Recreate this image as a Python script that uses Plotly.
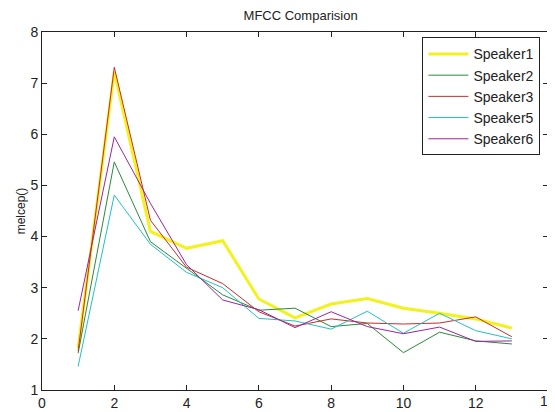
import plotly.graph_objects as go

x_vals = list(range(1, 14))
speaker1 = [1.82, 7.22, 4.10, 3.77, 3.92, 2.78, 2.41, 2.68, 2.79, 2.60, 2.50, 2.39, 2.21]
speaker2 = [1.72, 5.46, 3.90, 3.38, 2.86, 2.56, 2.60, 2.24, 2.30, 1.73, 2.13, 1.96, 1.90]
speaker3 = [1.76, 7.31, 4.32, 3.40, 3.08, 2.53, 2.25, 2.39, 2.31, 2.29, 2.31, 2.43, 2.04]
speaker5 = [1.46, 4.81, 3.85, 3.30, 3.00, 2.40, 2.35, 2.19, 2.54, 2.11, 2.50, 2.16, 2.00]
speaker6 = [2.55, 5.95, 4.65, 3.45, 2.76, 2.57, 2.22, 2.53, 2.24, 2.10, 2.23, 1.95, 1.96]
x_ticks = [0, 2, 4, 6, 8, 10, 12, 14]
y_ticks = [1, 2, 3, 4, 5, 6, 7, 8]

series = [
    ("Speaker1", speaker1, "#f2f21c", 3),
    ("Speaker2", speaker2, "#2a8a3a", 1),
    ("Speaker3", speaker3, "#cc2a2a", 1),
    ("Speaker5", speaker5, "#22c0c0", 1),
    ("Speaker6", speaker6, "#9a259a", 1),
]

fig = go.Figure()
for name, vals, color, w in series:
    fig.add_trace(go.Scatter(x=x_vals, y=vals, mode="lines", name=name,
                             line=dict(color=color, width=w)))

tick_font = dict(family="Liberation Sans, Arial", size=14, color="#222")
axis_common = dict(
    showgrid=False, zeroline=False, showline=True, linecolor="#222",
    linewidth=1, mirror="allticks", ticks="inside", ticklen=5,
    tickcolor="#222", automargin=False, tickfont=tick_font,
)

# page body has an 8px margin, so the figure is sized to fit the window
fig.update_layout(
    width=547, height=404,
    margin=dict(l=34, r=7, t=24, b=22),
    paper_bgcolor="white", plot_bgcolor="white",
    title=dict(text="MFCC Comparision", x=0.535, xanchor="center", y=0.982, yanchor="middle",
               font=dict(family="Liberation Sans, Arial", size=13, color="#222")),
    xaxis=dict(range=[0, 14], tickvals=x_ticks, **axis_common),
    yaxis=dict(range=[1, 8], tickvals=y_ticks,
               title=dict(text="melcep()", standoff=2,
                          font=dict(family="Liberation Sans, Arial", size=12, color="#222")),
               **axis_common),
    legend=dict(x=0.985, y=0.985, xanchor="right", yanchor="top",
                bgcolor="white", bordercolor="#222", borderwidth=1,
                font=dict(family="Liberation Sans, Arial", size=14, color="#222"),
                tracegroupgap=0, itemwidth=40),
    showlegend=True,
)

# last x tick label (dropped by plotly because it overflows the right edge)
fig.add_annotation(x=x_ticks[-1], xref="x", y=0, yref="paper", yanchor="top", yshift=-1,
                   text=str(x_ticks[-1]), showarrow=False, font=tick_font)

fig.write_html("out.html")
